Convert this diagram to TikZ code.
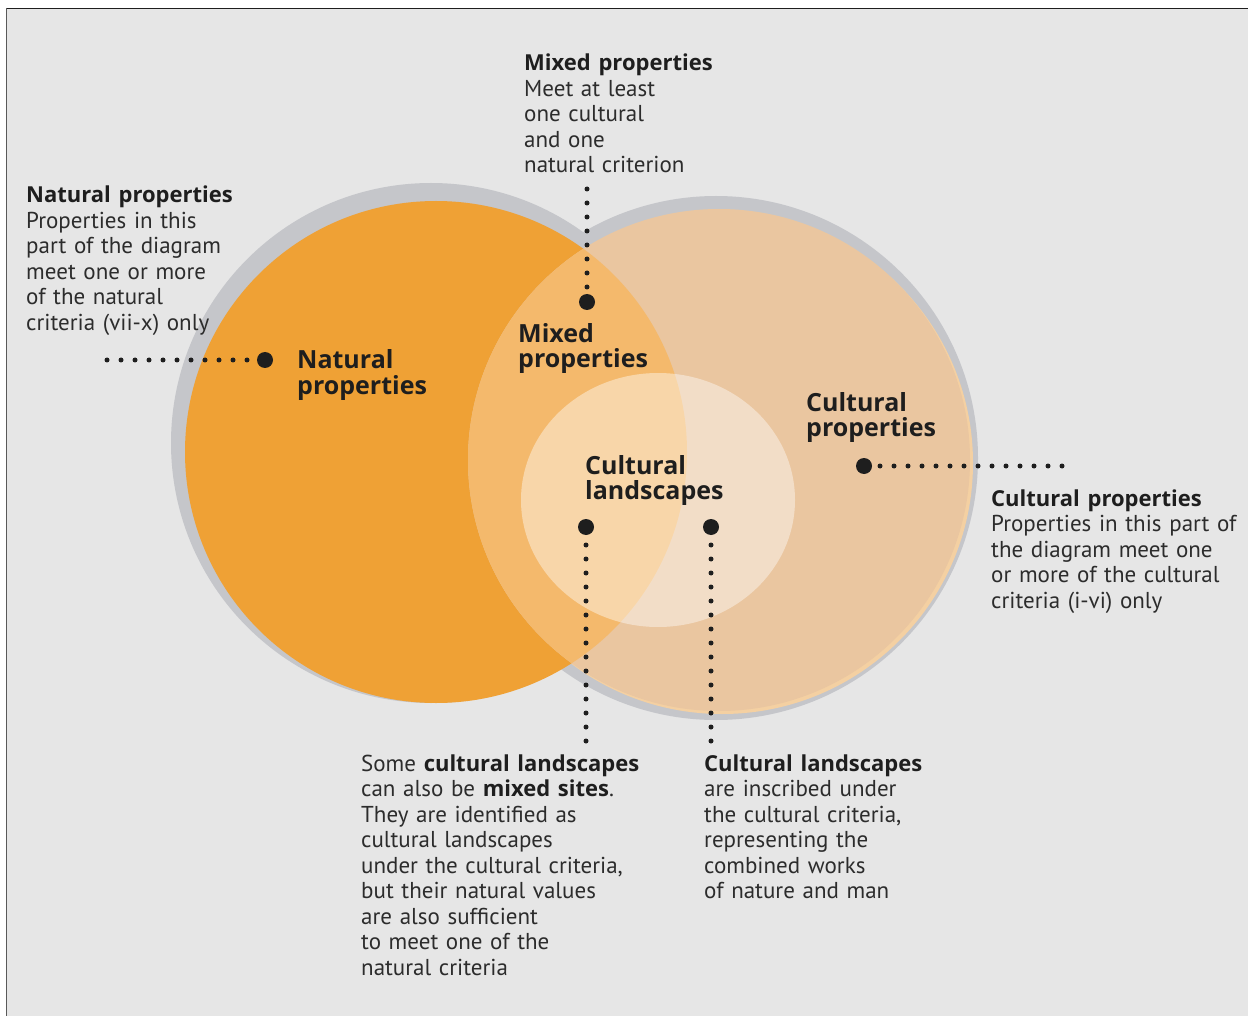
\documentclass[tikz,border=0pt]{standalone}
\usepackage{fontspec}
\setmainfont{PT Sans}
\newfontfamily\headfam{Open Sans}
\definecolor{bg}{HTML}{E6E6E6}
\definecolor{ring}{HTML}{C5C6CA}
\definecolor{nat}{HTML}{EFA135}
\definecolor{mix}{HTML}{F4B96C}
\definecolor{cul}{HTML}{EAC6A0}
\definecolor{peach}{HTML}{F4D0A2}
\definecolor{ink}{HTML}{1E1E1E}
\definecolor{bodyink}{HTML}{2C2C2C}
\newcommand\hb[1]{{\fontsize{22}{25.5}\selectfont\headfam\bfseries\color{ink}#1}}
\tikzset{
  bigdot/.style={circle, fill=ink, minimum size=16pt, inner sep=0pt},
  dotline/.style={draw=ink, line width=5pt, line cap=round, dash pattern=on 0pt off 14pt},
  bodytext/.style={anchor=base west, inner sep=0pt, align=left, text width=320pt,
    font=\fontsize{23}{25.5}\selectfont, text=bodyink},
  labtext/.style={anchor=base west, inner sep=0pt, align=left, text width=220pt,
    font=\fontsize{25}{25.5}\selectfont\headfam\bfseries, text=ink},
}
\begin{document}
\begin{tikzpicture}[x=1pt,y=-1pt]
\useasboundingbox (0,0) rectangle (1248,1016);
% background
\fill[white] (0,0) rectangle (1248,1016);
\fill[bg] (6,8) rectangle (1248,1016);
\draw[ink, line width=1.5pt] (6,8.5) -- (1248,8.5);
\draw[black!65, line width=1.2pt] (6.5,8) -- (6.5,1016);
% circles
\fill[ring] (431,443) circle[radius=260pt];
\fill[ring] (716,458) circle[radius=262pt];
\fill[peach] (722,463) circle[radius=251pt];
\fill[nat] (436,452) circle[radius=251pt];
\fill[cul] (719,460) circle[radius=251pt];
\begin{scope}
  \clip (436,452) circle[radius=251pt];
  \fill[mix] (719,460) circle[radius=251pt];
\end{scope}
\fill[white, opacity=0.42] (658,500) ellipse[x radius=137pt, y radius=127pt];
% labels in the diagram
\node[labtext] (natlab) at (297,369) {Natural\\properties};
\node[labtext] (mixlab) at (518,342) {Mixed\\properties};
\node[labtext] (cullab) at (806,411) {Cultural\\properties};
\node[labtext] (landlab) at (585,474) {Cultural\\landscapes};
% dots and dotted leaders
\node[bigdot] (natdot) at (265,360) {};
\coordinate (natend) at (107,360);
\draw[dotline] (natend) -- (natdot);
\node[bigdot] (mixdot) at (587,302) {};
\coordinate (mixend) at (587,189);
\draw[dotline] (mixend) -- (mixdot);
\node[bigdot] (culdot) at (864,466) {};
\coordinate (culend) at (1062,466);
\draw[dotline] (culend) -- (culdot);
\node[bigdot] (landdotA) at (586,527) {};
\coordinate (landendA) at (586,741);
\draw[dotline] (landendA) -- (landdotA);
\node[bigdot] (landdotB) at (711,527) {};
\coordinate (landendB) at (711,741);
\draw[dotline] (landendB) -- (landdotB);
% explanatory texts
\node[bodytext] (mixtxt) at (524,71) {\hb{Mixed properties}\\Meet at least\\one cultural\\and one\\natural criterion};
\node[bodytext] (nattxt) at (26,203) {\hb{Natural properties}\\Properties in this\\part of the diagram\\meet one or more\\of the natural\\criteria (vii-x) only};
\node[bodytext] (cultxt) at (991,506) {\hb{Cultural properties}\\Properties in this part of\\the diagram meet one\\or more of the cultural\\criteria (i-vi) only};
\node[bodytext] (landtxtA) at (361,771) {Some \hb{cultural landscapes}\\can also be \hb{mixed sites}.\\They are identified as\\cultural landscapes\\under the cultural criteria,\\but their natural values\\are also sufficient\\to meet one of the\\natural criteria};
\node[bodytext] (landtxtB) at (704,771) {\hb{Cultural landscapes}\\are inscribed under\\the cultural criteria,\\representing the\\combined works\\of nature and man};
\end{tikzpicture}
\end{document}
